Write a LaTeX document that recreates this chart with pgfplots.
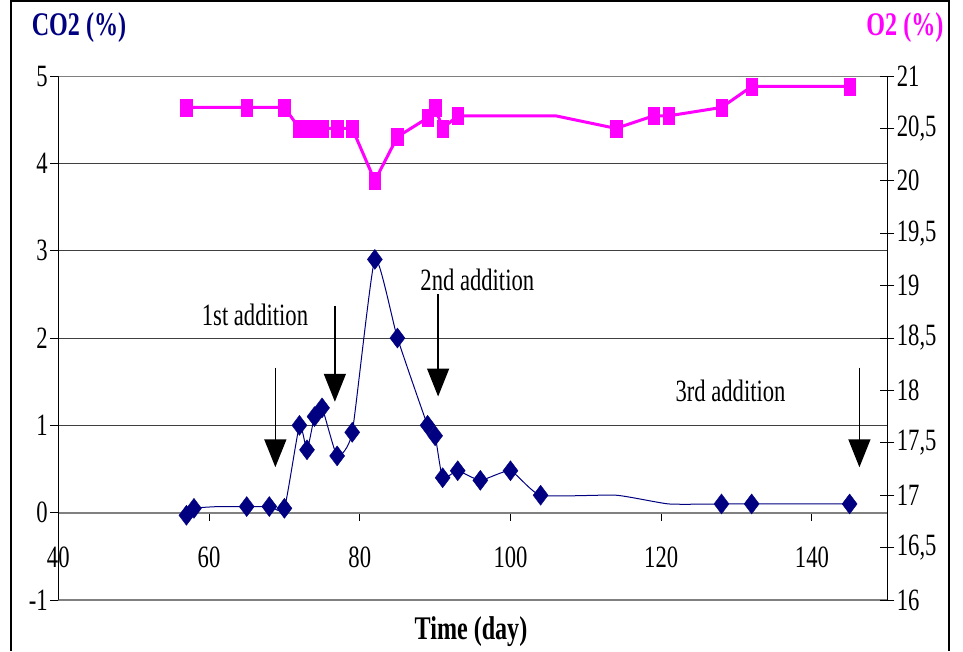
\documentclass[border=0pt]{standalone}
\usepackage{fontspec}
\setmainfont{Liberation Serif}
\usepackage{pgfplots}
\pgfplotsset{compat=1.18}
\usetikzlibrary{arrows.meta}
\definecolor{co2blue}{RGB}{0,0,128}
\definecolor{o2pink}{RGB}{255,0,255}
\definecolor{framegray}{RGB}{128,128,128}
\newcommand\chartfont{\fontsize{31}{34}\selectfont}
\newcommand\titlefont{\fontsize{33}{36}\selectfont\bfseries}

\begin{document}
\begin{tikzpicture}[every node/.append style={xscale=0.73},
  addarrow/.style={line width=1.5pt, -{Triangle[length=28pt,width=22pt]}}]
\useasboundingbox (0,0) rectangle (963pt,-651pt);
\draw[line width=2pt] (11pt,-651pt) -- (11pt,-1pt) -- (949pt,-1pt) -- (949pt,-651pt);

% left axis: CO2
\begin{axis}[
  at={(58.3pt,-600pt)}, anchor=south west,
  scale only axis, width=829pt, height=524pt,
  xmin=40, xmax=150, ymin=-1, ymax=5,
  enlargelimits=false,
  axis x line=middle, axis y line=left,
  hide obscured x ticks=false,
  axis line style={-},
  x axis line style={framegray, line width=2pt},
  y axis line style={black, line width=1.5pt},
  xtick={40,60,...,140}, ytick={-1,0,...,5},
  ymajorgrids, grid style={black!75, line width=1pt},
  tick style={black, line width=1pt},
  major tick length=8pt, tick align=outside,
  tick label style={font=\chartfont},
  /pgf/number format/assume math mode=true,
  x tick label style={yshift=-23pt},
]
\addplot[co2blue, line width=1pt, smooth, tension=0.3] coordinates {
  (57,-0.03) (58,0.05) (61.3,0.07) (65,0.07) (68,0.07) (70,0.05)
  (72,1.0) (73,0.72) (74,1.1) (75,1.2) (77,0.65) (79,0.92) (82,2.9)
  (85,2.0) (89,1.0) (90,0.88) (91,0.4) (93,0.48) (96,0.37) (100,0.48)
  (104,0.2) (114,0.2) (121,0.1) (128,0.1) (132,0.1) (145,0.1)
};
\addplot[only marks, mark=diamond*, mark size=10pt, co2blue] coordinates {
  (57,-0.03) (58,0.05) (65,0.07) (68,0.07) (70,0.05)
  (72,1.0) (73,0.72) (74,1.1) (75,1.2) (77,0.65) (79,0.92) (82,2.9)
  (85,2.0) (89,1.0) (90,0.88) (91,0.4) (93,0.48) (96,0.37) (100,0.48)
  (104,0.2) (128,0.1) (132,0.1) (145,0.1)
};
\draw[framegray, line width=2.5pt] (rel axis cs:0,1) -- (rel axis cs:1,1);
\draw[framegray, line width=2.5pt] (rel axis cs:0,0) -- (rel axis cs:1,0);
\draw[black, line width=1.5pt] (rel axis cs:0,0) -- (rel axis cs:0,1);
% addition arrows
\draw[addarrow] (axis cs:68.8,1.66) -- (axis cs:68.8,0.52);
\draw[addarrow] (axis cs:76.7,2.37) -- (axis cs:76.7,1.27);
\draw[addarrow] (axis cs:90.4,2.50) -- (axis cs:90.4,1.33);
\draw[addarrow] (axis cs:146.3,1.66) -- (axis cs:146.3,0.52);
\node[font=\chartfont] at (axis cs:66.1,2.27) {1st addition};
\node[font=\chartfont] at (axis cs:95.6,2.67) {2nd addition};
\node[font=\chartfont] at (axis cs:129.2,1.39) {3rd addition};
\end{axis}

% right axis: O2
\begin{axis}[
  at={(58.3pt,-600pt)}, anchor=south west,
  scale only axis, width=829pt, height=524pt,
  xmin=40, xmax=150, ymin=16, ymax=21,
  enlargelimits=false,
  axis x line=none, axis y line*=right,
  axis line style={-, black, line width=1.5pt},
  ytick={16,16.5,...,21},
  tick style={black, line width=1pt},
  major tick length=14pt, tick align=center,
  tick label style={font=\chartfont},
  /pgf/number format/assume math mode=true,
  /pgf/number format/use comma,
  /pgf/number format/fixed,
]
\addplot[o2pink, line width=3pt] coordinates {
  (57,20.7) (65,20.7) (70,20.7) (72,20.5) (73,20.5) (74,20.5) (75,20.5)
  (77,20.5) (79,20.5) (82,20.0) (85,20.42) (89,20.6) (90,20.7) (91,20.5)
  (93,20.62) (106,20.62) (114,20.5) (119,20.62) (121,20.62) (128,20.7)
  (132,20.9) (145,20.9)
};
\addplot[only marks, mark=square*, mark size=8.5pt, o2pink,
  mark options={xscale=0.68}] coordinates {
  (57,20.7) (65,20.7) (70,20.7) (72,20.5) (73,20.5) (74,20.5) (75,20.5)
  (77,20.5) (79,20.5) (82,20.0) (85,20.42) (89,20.6) (90,20.7) (91,20.5)
  (93,20.62) (114,20.5) (119,20.62) (121,20.62) (128,20.7)
  (132,20.9) (145,20.9)
};
\end{axis}

\node[font=\titlefont, text=co2blue] at (79pt,-28pt) {CO2 (\%)};
\node[font=\titlefont, text=o2pink, anchor=east] at (946pt,-28pt) {O2 (\%)};
\node[font=\titlefont] at (471pt,-632pt) {Time (day)};
\end{tikzpicture}
\end{document}
